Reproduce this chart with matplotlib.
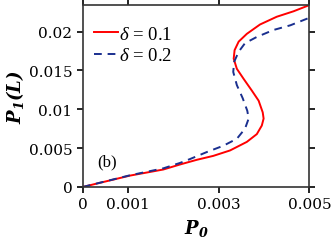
import matplotlib
matplotlib.use("Agg")
import matplotlib.pyplot as plt

# data
red_x = [0.0, 0.00104, 0.00178, 0.00215, 0.00252, 0.00288, 0.00325, 0.00362, 0.00384,
         0.00395, 0.00399, 0.00397, 0.00388, 0.00373, 0.00355, 0.0034, 0.00333, 0.00335,
         0.00344, 0.00362, 0.00391, 0.00428, 0.00465, 0.0050]
red_y = [0.0, 0.00146, 0.00225, 0.0029, 0.0035, 0.0040, 0.0047, 0.0058, 0.0068,
         0.0079, 0.0088, 0.0096, 0.0111, 0.0124, 0.0139, 0.0152, 0.0165, 0.0176,
         0.0187, 0.0197, 0.0209, 0.0219, 0.0226, 0.0234]
blue_x = [0.0, 0.00104, 0.00178, 0.00215, 0.00237, 0.00274, 0.0031, 0.0034, 0.00358,
          0.00366, 0.00363, 0.00353, 0.0034, 0.00332, 0.00334, 0.00344, 0.00358, 0.00384,
          0.00421, 0.00458, 0.0050]
blue_y = [0.0, 0.0015, 0.0024, 0.0031, 0.0036, 0.0045, 0.0053, 0.0062, 0.0075,
          0.0088, 0.0098, 0.0114, 0.0131, 0.0148, 0.0161, 0.0174, 0.0185, 0.0193,
          0.0202, 0.0208, 0.02177]
labels = [r"$\delta$ = 0.1", r"$\delta$ = 0.2"]
xticks = [0, 0.001, 0.003, 0.005]
xticklabels = ["0", "0.001", "0.003", "0.005"]
yticks = [0, 0.005, 0.01, 0.015, 0.02]
yticklabels = ["0", "0.005", "0.01", "0.015", "0.02"]

plt.rcParams["font.family"] = "DejaVu Serif"
plt.rcParams["mathtext.fontset"] = "custom"
plt.rcParams["mathtext.bf"] = "DejaVu Serif:italic:bold"
plt.rcParams["mathtext.it"] = "Liberation Serif:italic"
plt.rcParams["mathtext.rm"] = "Liberation Serif"

fig = plt.figure(figsize=(3.32, 2.53), dpi=100)
ax = fig.add_axes([0.249, 0.257, 0.683, 0.719])
ax.plot(red_x, red_y, color="#ff0000", lw=1.4, label=labels[0], solid_joinstyle="round")
ax.plot(blue_x, blue_y, color="#1a2f8f", lw=1.4, ls=(0, (4, 3)), label=labels[1])
ax.set_xlim(0, 0.005)
ax.set_ylim(0, 0.0234)
ax.set_xticks(xticks)
ax.set_xticklabels(xticklabels)
ax.set_yticks(yticks)
ax.set_yticklabels(yticklabels)
ax.tick_params(direction="out", length=4, width=1.2, labelsize=11, top=True, right=True)
for s in ax.spines.values():
    s.set_linewidth(1.2)
    s.set_color("#333333")
ax.set_xlabel(r"$\mathbf{P_0}$", fontsize=13, labelpad=4)
ax.set_ylabel(r"$\mathbf{P_1(L)}$", fontsize=13, labelpad=2)
ax.text(0.00033, 0.0028, "(b)", fontsize=12, family="Liberation Serif")
ax.legend(loc="upper left", bbox_to_anchor=(0.0, 0.95), frameon=False,
          prop={"family": "Liberation Serif", "size": 13.5}, handlelength=1.3,
          handletextpad=0.05, borderaxespad=0.2, labelspacing=0.25)
fig.savefig("out.png", dpi=100)
